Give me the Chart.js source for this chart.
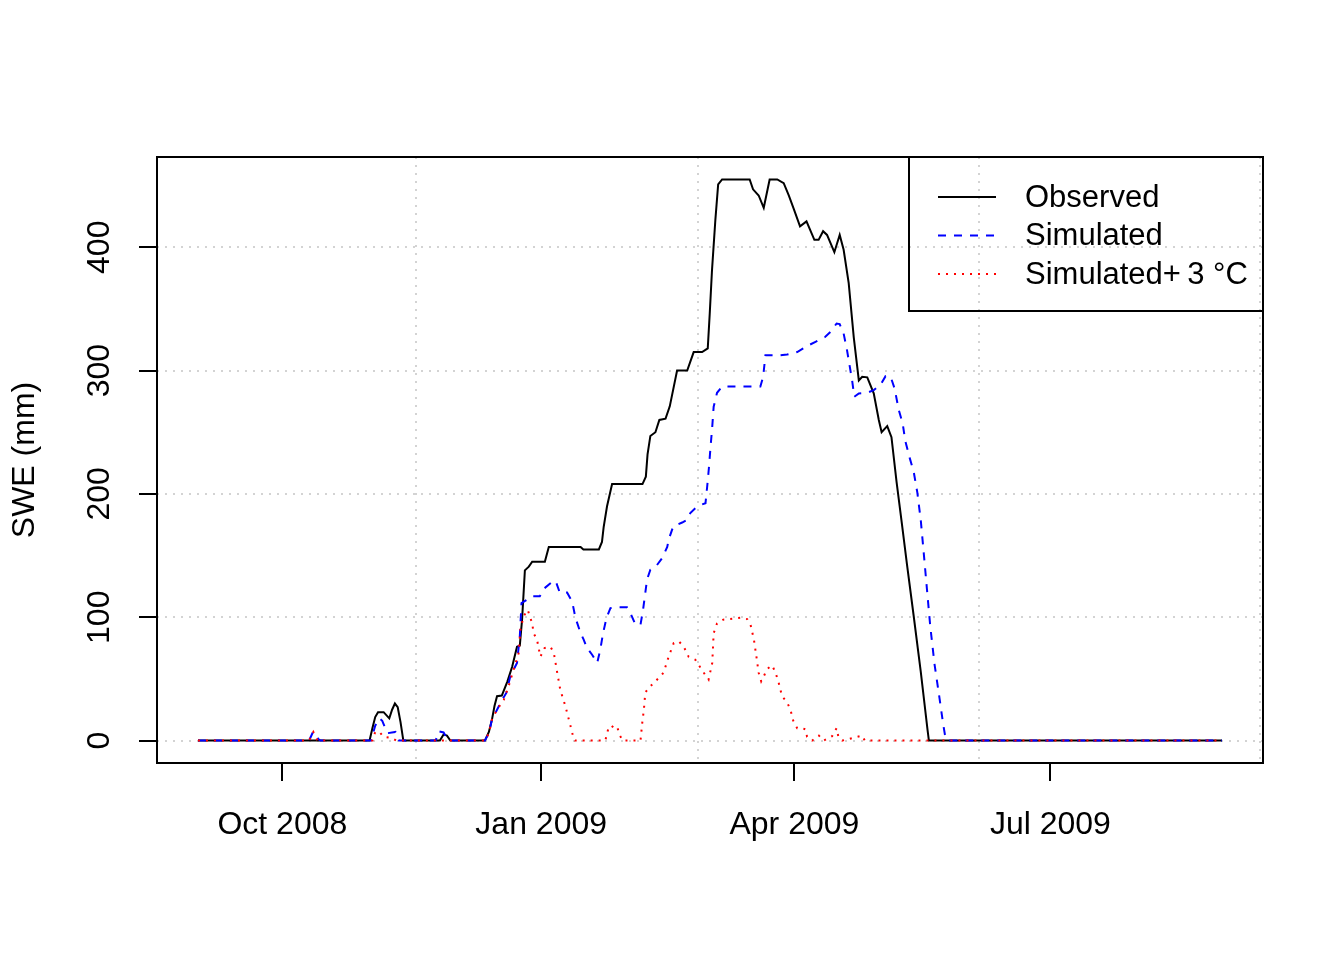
<!DOCTYPE html>
<html>
<head>
<meta charset="utf-8">
<script src="https://cdn.jsdelivr.net/npm/chart.js@4.4.1/dist/chart.umd.min.js"></script>
<style>
  body { margin: 0; background: #fff; }
  canvas { display: block; }
</style>
</head>
<body>
<canvas id="swe" width="1344" height="960"></canvas>
<script>
// x values are days since 2008-09-01
const obsDays = [0, 61, 62, 63, 64, 66, 68, 69, 70, 71, 72, 73, 86, 87.3, 88.5, 89.7, 102, 103.4, 104.5, 105.4,
  106.3, 108, 110, 111.7, 113.4, 114.4, 115.2, 116.2, 117.6, 118.8, 123.3, 124.7, 136, 137, 142.5, 143.6, 144.2, 145.4, 147.2, 158,
  159.2, 159.8, 160.8, 162.6, 164, 166.2, 167.7, 170.3, 173.9, 176.2, 179.2, 181.2, 181.9, 182.7, 183.9, 184.9, 186.3, 196.1, 197.3, 199.3,
  201.1, 203.2, 205.9, 208.2, 210, 211.8, 214, 216.3, 219.1, 220.6, 222.2, 223.6, 226.2, 228.1, 229.5, 231.3, 233.1, 234.9, 236.1, 237.9,
  240.2, 242, 243, 245, 246.5, 248.3, 250.2, 252, 254.4, 256.9, 259.3, 259.8, 364]
const obsSwe = [0, 0, 10, 19, 23, 23, 18, 25, 30, 27, 15, 0, 0, 5, 4, 0, 0, 7, 17, 28,
  36, 36.5, 48, 60, 76, 77, 98, 138, 141, 145, 145, 157, 157, 155, 155, 161, 173, 190, 208, 208,
  214, 232, 247, 250, 260, 261, 271, 300, 300, 315, 315, 318, 346, 381, 422, 451, 455, 455, 447, 442,
  432, 455, 455, 452, 442, 431, 417, 421, 406, 406, 413, 410, 396, 410, 398, 371, 327, 292, 295, 294.5,
  281.5, 260, 250, 255, 246, 210, 176, 143, 101, 56, 9, 0, 0]

const simDays = [0, 39.5, 40.9, 42.9, 43.5, 61.5, 63, 64.5, 65.5, 66.6, 67.5, 70.2, 71.5, 84.5, 85, 85.6, 87.3, 88.5, 89.7, 102,
  103.4, 104.5, 106.3, 108.1, 109.6, 111, 113.4, 114.4, 115, 116.4, 118.8, 121.5, 123.2, 126.5, 127.4, 128.6, 131.2, 133, 134.2, 136,
  137.1, 138.3, 140.1, 141.9, 143, 144, 145.2, 146.6, 149.6, 152.5, 153.7, 155.5, 157.3, 158.2, 159, 159.6, 160.8, 162.6, 165, 166.8,
  167.3, 168.9, 172.1, 173.9, 175, 176.8, 178.6, 180.4, 181, 181.6, 182.2, 182.8, 183.3, 184.5, 186.3, 199.9, 200.9, 201.7, 207, 209.4,
  213, 217.1, 219.5, 223, 224.8, 227, 228.1, 229.5, 230.7, 231.7, 232.5, 233.3, 234.9, 237.9, 240.2, 242.6, 244.4, 246.2, 247.6, 249.1,
  250.5, 251.4, 253, 254.4, 255.7, 256.9, 257.9, 259.1, 260.3, 261.8, 263.6, 264.8, 265.7, 266.5, 364]
const simSwe = [0, 0, 7, 1, 0, 0, 12, 18, 16, 10, 6, 7, 0, 0, 3.5, 7.5, 6.6, 2, 0, 0,
  6, 17, 25, 33, 38.6, 52, 63, 84.5, 111.5, 113.4, 117, 117, 123.6, 129.8, 127.7, 120, 120, 112.8, 99.3, 87.2,
  81.8, 75, 69.6, 63, 73.7, 87.2, 99.3, 107.4, 108, 108, 103.4, 94, 94, 106, 119.6, 130.4, 138.5, 140.6, 148, 157,
  162.8, 173.5, 176.8, 179, 184.4, 188.4, 191, 192.5, 206, 220.8, 238.3, 254.5, 270.7, 282, 287, 287, 295, 312.5, 312.5, 313,
  315, 320.6, 323.3, 327.4, 331.4, 338.2, 337.7, 330, 316.6, 303, 292.3, 278.8, 281.5, 282, 284.2, 288.3, 295.5, 295, 285.6, 268,
  257, 243, 229, 218, 201, 179, 154, 123, 92.5, 62, 34, 14.5, 2, 0, 0]

const warmDays = [0, 39.5, 41, 42.5, 62, 63, 64.5, 66, 69, 70.5, 102, 103.4, 104.5, 106.3, 108.7, 110.4, 112.2, 114, 114.6, 115.8,
  117.2, 118.8, 119.3, 120.5, 121.7, 123.2, 125.3, 126.5, 127.7, 128.8, 130.6, 132.4, 133.6, 134, 144.8, 146, 147, 148, 149, 150,
  151, 157.3, 157.9, 158.5, 159, 160.8, 162.6, 165.5, 167.3, 169.1, 170.9, 172.7, 174.4, 176.8, 179.8, 181.5, 182.8, 183.3, 184.5, 186.7,
  192.8, 195.2, 196.4, 197.6, 198.5, 199.3, 200.2, 201.1, 202.3, 204.1, 205.3, 206.4, 207.6, 209.4, 210.6, 211.6, 213, 214.8, 216, 216.5,
  218.3, 220.7, 222.4, 225.4, 227, 227.6, 229, 236.1, 237, 364]
const warmSwe = [0, 0, 7, 0, 0, 7, 7, 3, 2, 0, 0, 6, 17, 25, 33, 44, 57.5, 71, 90, 101,
  106, 95, 87, 82, 68, 75, 76, 71, 55, 41, 28, 12, 1, 0, 0, 11, 12, 10, 11, 4,
  0, 0, 14, 25, 39, 44, 48, 55, 68, 79, 80.5, 76, 68, 65.5, 55, 49.5, 63, 87, 95, 98,
  99.6, 98.5, 94, 82, 68, 55, 48, 52, 58, 61, 55, 47, 36, 31, 25, 16, 10, 10, 9, 3,
  0, 4, 0, 3.5, 10, 3.5, 0, 4, 0, 0]

const tickDays = [30, 122, 212, 303]
const tickLabels = ['Oct 2008', 'Jan 2009', 'Apr 2009', 'Jul 2009']
const yTicks = [0, 100, 200, 300, 400]
const gridDays = [77.6, 177.6, 277.6, 377.6]
const seriesNames = ['Observed', 'Simulated', 'Simulated+\u20093 \u00B0C']

const FONT = 'Liberation Sans, Arial, sans-serif'

function pts(days, vals) {
  return days.map((d, i) => ({x: d, y: vals[i]}))
}

// dotted light grey grid like R's grid()
const rGrid = {
  id: 'rGrid',
  beforeDatasetsDraw(chart) {
    const {ctx, chartArea: a, scales: {x, y}} = chart
    ctx.save()
    ctx.strokeStyle = '#d3d3d3'
    ctx.lineWidth = 2
    ctx.setLineDash([2, 6])
    gridDays.forEach(d => {
      const px = Math.round(x.getPixelForValue(d))
      ctx.beginPath(); ctx.moveTo(px, a.top); ctx.lineTo(px, a.bottom); ctx.stroke()
    })
    yTicks.forEach(v => {
      const py = Math.round(y.getPixelForValue(v))
      ctx.beginPath(); ctx.moveTo(a.left, py); ctx.lineTo(a.right, py); ctx.stroke()
    })
    ctx.restore()
  }
}

// plot box + legend in the top right corner
const rBox = {
  id: 'rBox',
  afterDraw(chart) {
    const {ctx, chartArea: a} = chart
    ctx.save()
    ctx.strokeStyle = '#000'
    ctx.lineWidth = 2
    ctx.setLineDash([])
    ctx.strokeRect(a.left, a.top, a.right - a.left, a.bottom - a.top)

    const bx = a.right - 354, by = a.top, bh = 154
    ctx.beginPath()
    ctx.moveTo(bx, by); ctx.lineTo(bx, by + bh); ctx.lineTo(a.right, by + bh)
    ctx.stroke()

    ctx.font = '31px ' + FONT
    ctx.textBaseline = 'middle'
    ctx.textAlign = 'left'
    chart.data.datasets.forEach((ds, i) => {
      const ry = by + 40 + i * 38.5
      ctx.strokeStyle = ds.borderColor
      ctx.lineWidth = 2
      ctx.setLineDash(ds.borderDash || [])
      ctx.beginPath(); ctx.moveTo(bx + 29, ry); ctx.lineTo(bx + 87, ry); ctx.stroke()
      ctx.fillStyle = '#000'
      ctx.fillText(ds.label, bx + 116, ry + 1)
    })
    ctx.restore()
  }
}

new Chart(document.getElementById('swe'), {
  type: 'line',
  data: {
    datasets: [
      {label: seriesNames[0], data: pts(obsDays, obsSwe), borderColor: '#000000', borderWidth: 2, order: 3},
      {label: seriesNames[1], data: pts(simDays, simSwe), borderColor: '#0000ff', borderWidth: 2, borderDash: [8, 8], order: 2},
      {label: seriesNames[2], data: pts(warmDays, warmSwe), borderColor: '#ff0000', borderWidth: 2, borderDash: [2, 6], order: 1}
    ]
  },
  options: {
    responsive: false,
    animation: false,
    devicePixelRatio: 1,
    layout: {padding: {top: 157, right: 81, left: 0, bottom: 0}},
    elements: {point: {radius: 0}, line: {tension: 0, borderCapStyle: 'butt'}},
    plugins: {legend: {display: false}, tooltip: {enabled: false}},
    scales: {
      x: {
        type: 'linear',
        min: -14.56,
        max: 378.56,
        afterBuildTicks(scale) { scale.ticks = tickDays.map(v => ({value: v})) },
        afterFit(scale) { scale.height = 197 },
        border: {display: false},
        grid: {drawOnChartArea: false, drawTicks: true, tickLength: 18, color: '#000', lineWidth: 2},
        ticks: {
          autoSkip: false, maxRotation: 0, padding: 25, color: '#000',
          font: {family: FONT, size: 32},
          callback: (v, i) => tickLabels[i]
        }
      },
      y: {
        min: -18.2,
        max: 473.2,
        afterBuildTicks(scale) { scale.ticks = yTicks.map(v => ({value: v})) },
        afterFit(scale) { scale.width = 157 },
        border: {display: false},
        grid: {drawOnChartArea: false, drawTicks: true, tickLength: 18, color: '#000', lineWidth: 2},
        ticks: {
          minRotation: 90, maxRotation: 90, crossAlign: 'center', padding: 12, color: '#000',
          font: {family: FONT, size: 32},
          callback: v => String(v)
        },
        title: {
          display: true, text: 'SWE (mm)', color: '#000',
          font: {family: FONT, size: 32}, padding: {top: 6, bottom: 0}
        }
      }
    }
  },
  plugins: [rGrid, rBox]
})
</script>
</body>
</html>
